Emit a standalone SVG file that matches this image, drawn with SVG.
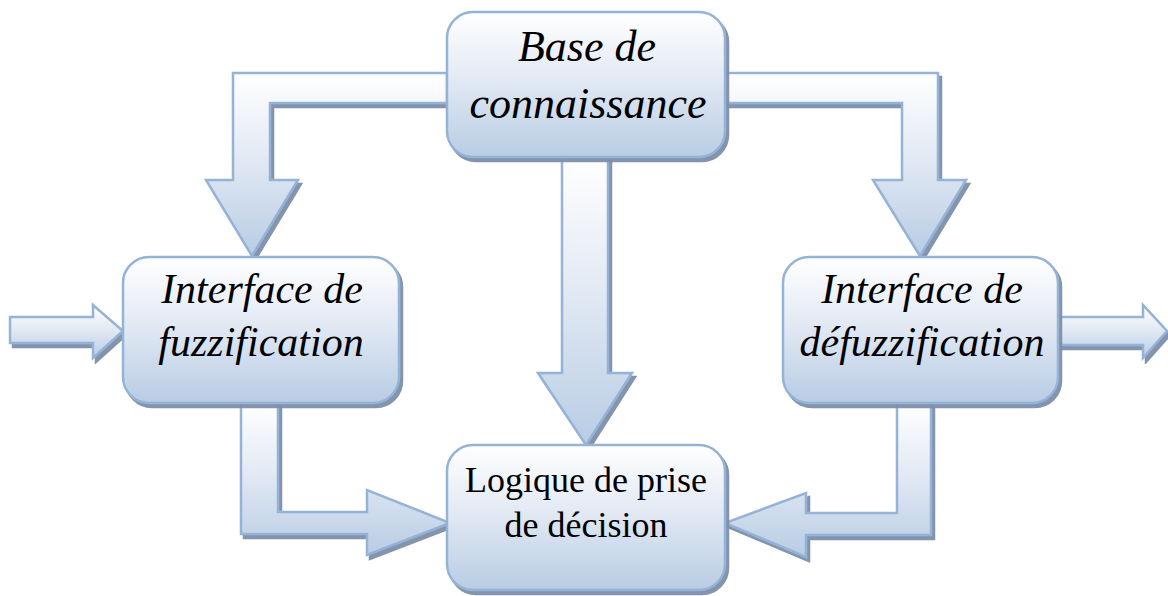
<svg xmlns="http://www.w3.org/2000/svg" width="1168" height="596" viewBox="0 0 1168 596">
  <defs>
    <linearGradient id="grad" x1="0" y1="0" x2="0" y2="1">
      <stop offset="0" stop-color="#ffffff"/>
      <stop offset="0.45" stop-color="#e3eaf4"/>
      <stop offset="1" stop-color="#b8cce4"/>
    </linearGradient>
    <filter id="shadow" x="-5%" y="-5%" width="115%" height="115%">
      <feOffset in="SourceAlpha" dx="3" dy="4" result="off"/>
      <feGaussianBlur in="off" stdDeviation="0.6" result="blur"/>
      <feFlood flood-color="#7d8ea8" flood-opacity="0.95"/>
      <feComposite operator="in" in2="blur" result="sh"/>
      <feMerge>
        <feMergeNode in="sh"/>
        <feMergeNode in="SourceGraphic"/>
      </feMerge>
    </filter>
  </defs>
  <style>
    .shape { fill: url(#grad); stroke: #95b3d7; stroke-width: 2.5; stroke-linejoin: miter; filter: url(#shadow); }
    .lbl { font-family: "Liberation Serif", "Times New Roman", serif; fill: #000; text-anchor: middle; }
    .it { font-style: italic; }
  </style>

  <g id="connectors">
    <polygon class="shape" points="447,73 233,73 233,180 206,180 252,256 298,180 270,180 270,103 447,103"/>
    <polygon class="shape" points="725,73 938,73 938,180 966,180 920,256 873,180 902,180 902,103 725,103"/>
    <polygon class="shape" points="562,157 608,157 608,373 632,373 586,445 538,373 562,373"/>
    <polygon class="shape" points="10,317 93,317 93,305 123,331 93,358 93,343 10,343"/>
    <polygon class="shape" points="1058,317 1143,317 1143,305 1167,331 1143,358 1143,345 1058,345"/>
    <polygon class="shape" points="241,403 278,403 278,512 367,512 367,490 450,523 367,555 367,534 241,534"/>
    <polygon class="shape" points="931,403 897,403 897,513 806,513 806,493 725,523 806,557 806,535 931,535"/>
  </g>

  <g id="node-base">
    <rect class="shape" x="447" y="12" width="278" height="145" rx="26"/>
    <text class="lbl it" x="587" y="61" font-size="44">Base de</text>
    <text class="lbl it" x="588" y="118" font-size="44">connaissance</text>
  </g>

  <g id="node-fuzz">
    <rect class="shape" x="123" y="257" width="276" height="146" rx="26"/>
    <text class="lbl it" x="262" y="303" font-size="42">Interface de</text>
    <text class="lbl it" x="261" y="356" font-size="42">fuzzification</text>
  </g>

  <g id="node-defuzz">
    <rect class="shape" x="783" y="257" width="275" height="146" rx="26"/>
    <text class="lbl it" x="922" y="303" font-size="42">Interface de</text>
    <text class="lbl it" x="922" y="356" font-size="42">défuzzification</text>
  </g>

  <g id="node-logique">
    <rect class="shape" x="447" y="445" width="278" height="145" rx="26"/>
    <text class="lbl" x="586" y="492" font-size="36">Logique de prise</text>
    <text class="lbl" x="586" y="537" font-size="36">de décision</text>
  </g>
</svg>
